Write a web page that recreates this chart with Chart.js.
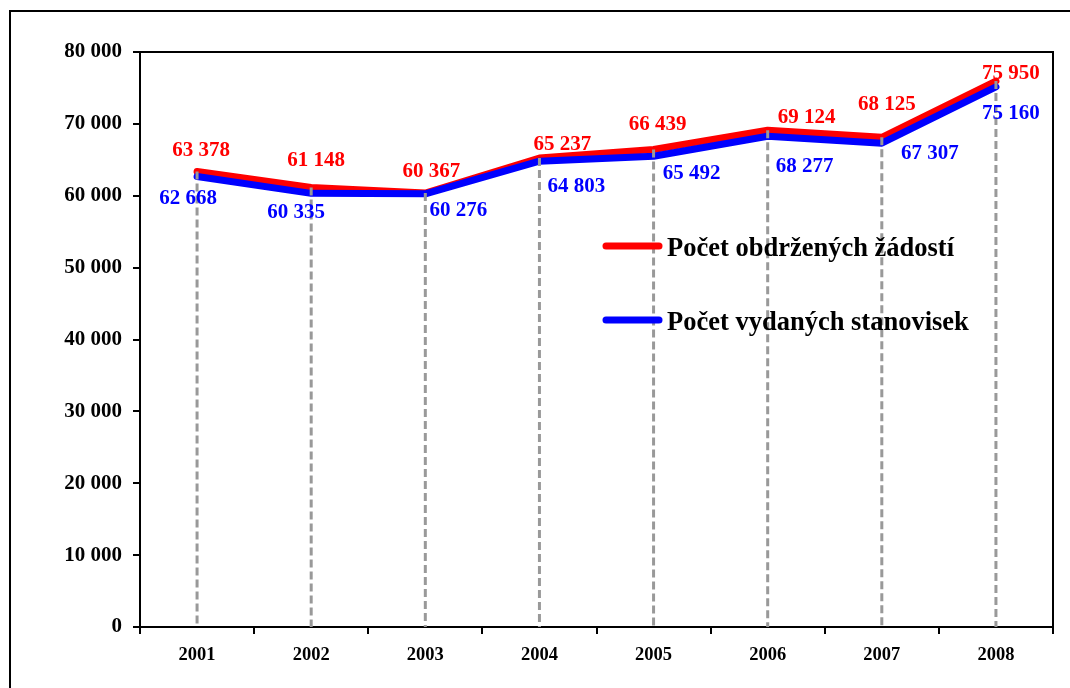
<!DOCTYPE html>
<html>
<head>
<meta charset="utf-8">
<script src="https://cdn.jsdelivr.net/npm/chart.js@4/dist/chart.umd.min.js"></script>
<style>
  html, body { margin: 0; padding: 0; background: #fff; }
  #wrap { position: relative; width: 1070px; height: 688px; }
</style>
</head>
<body>
<div id="wrap"><canvas id="chart" width="1070" height="688"></canvas></div>
<script>
// data
const years = ["2001", "2002", "2003", "2004", "2005", "2006", "2007", "2008"];
const receivedLabel = "Počet obdržených žádostí";
const issuedLabel = "Počet vydaných stanovisek";
const received = [63378, 61148, 60367, 65237, 66439, 69124, 68125, 75950];
const issued = [62668, 60335, 60276, 64803, 65492, 68277, 67307, 75160];
const yTickLabels = ["0", "10 000", "20 000", "30 000", "40 000", "50 000", "60 000", "70 000", "80 000"];

const FONT = "'Liberation Serif', 'Times New Roman', serif";

function fmt(n) {
    return String(n).replace(/\B(?=(\d{3})+(?!\d))/g, " ");
}

// label nudges (Excel had them placed by hand)
const redNudge = [[4, -21], [5, -27], [6, -22], [23, -14], [4, -25], [39, -13], [5, -33], [15, -8]];
const blueNudge = [[-9, 22], [-15, 19], [33, 17], [37, 25], [38, 17], [37, 30], [48, 10], [15, 27]];

// =======================
// PLUGINS
// =======================
const frame = {
    id: "frame",
    beforeDraw(chart) {
        const ctx = chart.ctx;
        ctx.save();
        ctx.fillStyle = "#fff";
        ctx.fillRect(0, 0, chart.width, chart.height);
        ctx.strokeStyle = "#000";
        ctx.lineWidth = 2;
        ctx.strokeRect(10, 11, 1200, 800);
        ctx.restore();
    },
    afterDraw(chart) {
        const { ctx, chartArea: a } = chart;
        ctx.save();
        ctx.strokeStyle = "#000";
        ctx.lineWidth = 2;
        ctx.beginPath();
        ctx.moveTo(a.left, a.top);
        ctx.lineTo(a.right, a.top);
        ctx.lineTo(a.right, a.bottom);
        ctx.stroke();
        ctx.restore();
    }
};

const dropLines = {
    id: "dropLines",
    afterDatasetsDraw(chart) {
        const { ctx, scales } = chart;
        ctx.save();
        ctx.strokeStyle = "#999999";
        ctx.lineWidth = 3;
        ctx.setLineDash([8, 4]);
        years.forEach((y, i) => {
            const x = scales.x.getPixelForValue(i);
            const top = scales.y.getPixelForValue(Math.max(received[i], issued[i]));
            ctx.beginPath();
            ctx.moveTo(x, top);
            ctx.lineTo(x, scales.y.bottom);
            ctx.stroke();
        });
        ctx.restore();
    }
};

const valueLabels = {
    id: "valueLabels",
    afterDraw(chart) {
        const { ctx, scales } = chart;
        ctx.save();
        ctx.font = "bold 21px " + FONT;
        ctx.textAlign = "center";
        ctx.textBaseline = "middle";
        const draw = (vals, nudge, color) => {
            ctx.fillStyle = color;
            vals.forEach((v, i) => {
                const x = scales.x.getPixelForValue(i);
                const y = scales.y.getPixelForValue(v);
                ctx.fillText(fmt(v), x + nudge[i][0], y + nudge[i][1]);
            });
        };
        draw(received, redNudge, "#ff0000");
        draw(issued, blueNudge, "#0000ff");
        ctx.restore();
    }
};

const legendBox = {
    id: "legendBox",
    afterDraw(chart) {
        const ctx = chart.ctx;
        const items = [
            { label: receivedLabel, color: "#ff0000", y: 246 },
            { label: issuedLabel, color: "#0000ff", y: 320 }
        ];
        ctx.save();
        ctx.font = "bold 26.5px " + FONT;
        ctx.textBaseline = "middle";
        ctx.textAlign = "left";
        items.forEach(it => {
            ctx.strokeStyle = it.color;
            ctx.lineWidth = 7;
            ctx.lineCap = "round";
            ctx.beginPath();
            ctx.moveTo(606, it.y);
            ctx.lineTo(659, it.y);
            ctx.stroke();
            ctx.fillStyle = "#000";
            ctx.fillText(it.label, 667, it.y + 3);
        });
        ctx.restore();
    }
};

// =======================
// CHART
// =======================
new Chart(document.getElementById("chart"), {
    type: "line",
    data: {
        labels: years,
        datasets: [
            {
                label: receivedLabel,
                data: received,
                borderColor: "#ff0000",
                borderWidth: 7,
                borderCapStyle: "round",
                borderJoinStyle: "round",
                pointRadius: 0,
                tension: 0,
                order: 2
            },
            {
                label: issuedLabel,
                data: issued,
                borderColor: "#0000ff",
                borderWidth: 7,
                borderCapStyle: "round",
                borderJoinStyle: "round",
                pointRadius: 0,
                tension: 0,
                order: 1
            }
        ]
    },
    options: {
        responsive: false,
        animation: false,
        layout: { padding: { left: 0, right: 17, top: 52, bottom: 0 } },
        plugins: {
            legend: { display: false },
            tooltip: { enabled: false }
        },
        scales: {
            x: {
                offset: true,
                grid: {
                    offset: true,
                    drawOnChartArea: false,
                    drawTicks: true,
                    tickLength: 7,
                    color: "#000",
                    lineWidth: 2
                },
                border: { color: "#000", width: 2 },
                ticks: {
                    color: "#000",
                    padding: 10,
                    maxRotation: 0,
                    font: { family: FONT, size: 18.5, weight: "bold" }
                },
                afterFit(scale) { scale.height = 61; }
            },
            y: {
                min: 0,
                max: 80000,
                grid: {
                    drawOnChartArea: false,
                    drawTicks: true,
                    tickLength: 7,
                    color: "#000",
                    lineWidth: 2
                },
                border: { color: "#000", width: 2 },
                ticks: {
                    stepSize: 10000,
                    color: "#000",
                    padding: 11,
                    font: { family: FONT, size: 21, weight: "bold" },
                    callback: (v, i) => yTickLabels[i]
                },
                afterFit(scale) { scale.width = 140; }
            }
        }
    },
    plugins: [frame, dropLines, valueLabels, legendBox]
});
</script>
</body>
</html>
